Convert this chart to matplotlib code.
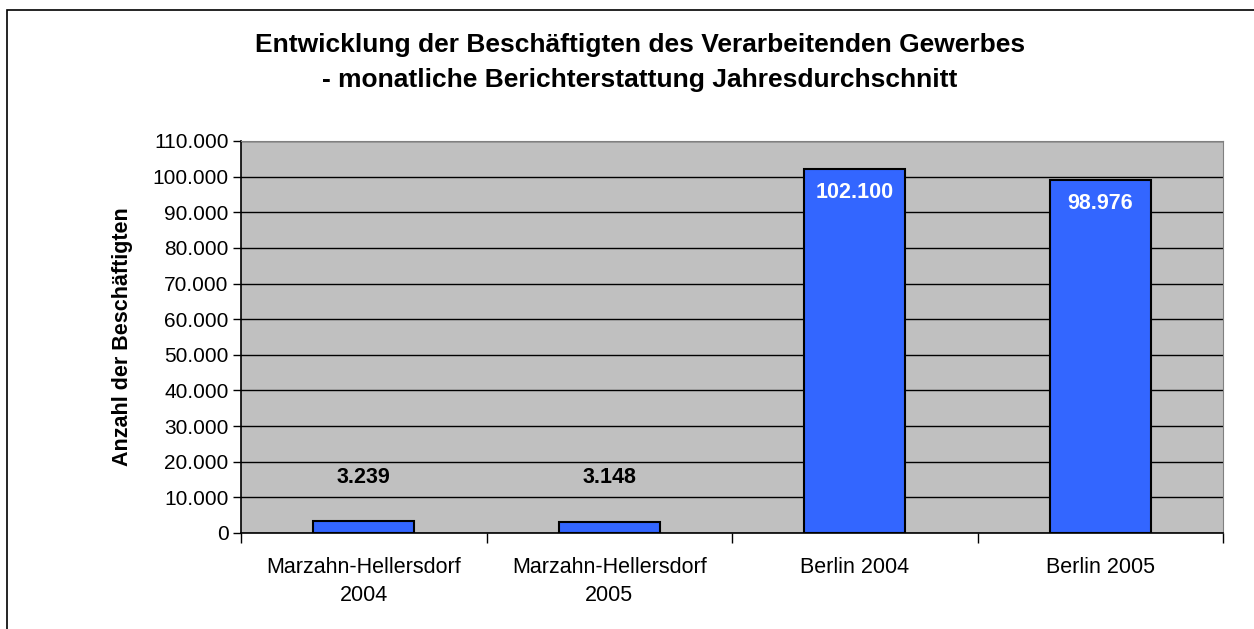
import matplotlib.pyplot as plt
import matplotlib.patches as patches
from matplotlib.ticker import FuncFormatter

plt.rcParams['font.family'] = ['Liberation Sans', 'DejaVu Sans']

categories = ["Marzahn-Hellersdorf\n2004", "Marzahn-Hellersdorf\n2005", "Berlin 2004", "Berlin 2005"]
values = [3239, 3148, 102100, 98976]
value_labels = ["3.239", "3.148", "102.100", "98.976"]

fig = plt.figure(figsize=(12.54, 6.29), dpi=100)
ax = fig.add_axes([241 / 1254, 1 - 533 / 629, (1223 - 241) / 1254, (533 - 141) / 629])

# outer frame of the chart
fig.add_artist(patches.Rectangle((7 / 1254, 0 - 0.01), 1.2, (619 / 629) + 0.01,
                                 transform=fig.transFigure, fill=False, edgecolor='black', lw=1.2))

x = list(range(len(values)))
ax.bar(x, values, width=0.41, color='#3366FF', edgecolor='black', linewidth=1.5, zorder=3)

ax.set_facecolor('#C0C0C0')
ax.set_xlim(-0.5, len(values) - 0.5)
ax.set_ylim(0, 110000)
ax.set_yticks(range(0, 110001, 10000))
ax.yaxis.set_major_formatter(FuncFormatter(lambda v, p: f"{int(v):,}".replace(",", ".")))
ax.grid(axis='y', color='black', linewidth=1, zorder=1)

ax.set_xticks([i - 0.5 for i in range(len(values) + 1)])
ax.set_xticklabels([])
ax.set_xticks(x, minor=True)
ax.set_xticklabels(categories, minor=True, fontsize=15.5, linespacing=1.45)
ax.tick_params(axis='x', which='minor', length=0, pad=17)
ax.tick_params(axis='x', which='major', length=7, width=1)
ax.tick_params(axis='y', length=6, width=1, labelsize=15, pad=3)

for side in ['top', 'right']:
    ax.spines[side].set_color('#808080')
ax.spines['left'].set_linewidth(1.2)
ax.spines['bottom'].set_linewidth(1.2)

for i, (v, lab) in enumerate(zip(values, value_labels)):
    if v > 50000:
        ax.annotate(lab, (i, v), xytext=(0, -17), textcoords='offset points',
                    ha='center', va='center', color='white', fontsize=15.5, fontweight='bold', zorder=4)
    else:
        ax.annotate(lab, (i, v), xytext=(0, 32), textcoords='offset points',
                    ha='center', va='center', color='black', fontsize=15.5, fontweight='bold', zorder=4)

ax.set_ylabel("Anzahl der Beschäftigten", fontsize=15.5, fontweight='bold', labelpad=14)

fig.text(640 / 1254, 1 - 45 / 629, "Entwicklung der Beschäftigten des Verarbeitenden Gewerbes",
         ha='center', va='center', fontsize=19, fontweight='bold')
fig.text(640 / 1254, 1 - 80 / 629, "- monatliche Berichterstattung Jahresdurchschnitt",
         ha='center', va='center', fontsize=19, fontweight='bold')

fig.savefig("out.png", dpi=100)
